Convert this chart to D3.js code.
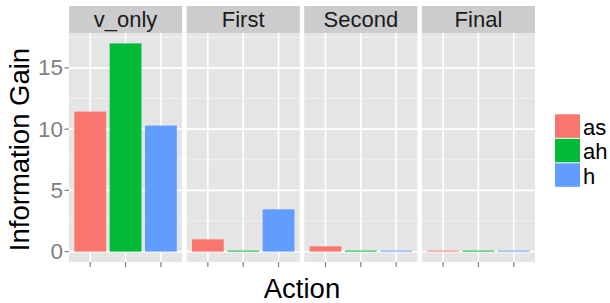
<!DOCTYPE html>
<html>
<head>
<meta charset="utf-8">
<style>
  html, body { margin: 0; padding: 0; background: #fff; }
  svg { display: block; font-family: "Liberation Sans", Arial, sans-serif; }
</style>
</head>
<body>
<div id="chart"></div>
<script src="https://d3js.org/d3.v7.min.js"></script>
<script>
    // facet panels, action categories and the values
    const panels = ["v_only", "First", "Second", "Final"];
    const actions = ["as", "ah", "h"];
    const colors = ["#F8766D", "#00BA38", "#619CFF"];
    const gainVOnly = [11.43, 17.0, 10.29];
    const gainFirst = [1.0, 0.08, 3.45];
    const gainSecond = [0.43, 0.08, 0.08];
    const gainFinal = [0.08, 0.08, 0.08];
    const yTicks = [0, 5, 10, 15];
    const yMinor = [2.5, 7.5, 12.5, 17.5];

    const values = [gainVOnly, gainFirst, gainSecond, gainFinal];

    const width = 610, height = 303;
    const left = 69, right = 535, gap = 4.5;
    const stripTop = 6, panelTop = 33, panelBottom = 262;
    const panelW = (right - left - gap * (panels.length - 1)) / panels.length;

    const svg = d3.select("#chart").append("svg")
        .attr("width", width)
        .attr("height", height);

    // ggplot style 5% expansion of the continuous axis
    const maxVal = d3.max(values.flat());
    const pad = maxVal * 0.05;
    const y = d3.scaleLinear()
        .domain([-pad, maxVal + pad])
        .range([panelBottom, panelTop]);

    const x = d3.scalePoint()
        .domain(actions)
        .range([0, panelW])
        .padding(0.6);
    const barW = x.step() * 0.9;

    panels.forEach((name, i) => {
        const g = svg.append("g")
            .attr("transform", `translate(${left + i * (panelW + gap)},0)`);

        // strip
        g.append("rect")
            .attr("x", 0).attr("y", stripTop)
            .attr("width", panelW).attr("height", panelTop - stripTop)
            .attr("fill", "#CCCCCC");
        g.append("text")
            .attr("x", panelW / 2).attr("y", 27.3)
            .attr("text-anchor", "middle")
            .attr("font-size", 22)
            .attr("fill", "#1A1A1A")
            .text(name);

        // panel background
        g.append("rect")
            .attr("x", 0).attr("y", panelTop)
            .attr("width", panelW).attr("height", panelBottom - panelTop)
            .attr("fill", "#E5E5E5");

        g.selectAll(".minor")
            .data(yMinor.filter(v => y(v) > panelTop))
            .join("line")
            .attr("x1", 0).attr("x2", panelW)
            .attr("y1", d => y(d)).attr("y2", d => y(d))
            .attr("stroke", "#F2F2F2")
            .attr("stroke-width", 0.9);

        g.selectAll(".major")
            .data(yTicks)
            .join("line")
            .attr("x1", 0).attr("x2", panelW)
            .attr("y1", d => y(d)).attr("y2", d => y(d))
            .attr("stroke", "#FFFFFF")
            .attr("stroke-width", 1.6);

        g.selectAll(".vmajor")
            .data(actions)
            .join("line")
            .attr("x1", d => x(d)).attr("x2", d => x(d))
            .attr("y1", panelTop).attr("y2", panelBottom)
            .attr("stroke", "#FFFFFF")
            .attr("stroke-width", 1.6);

        // bars
        g.selectAll(".bar")
            .data(actions.map((a, j) => ({ a, v: values[i][j], c: colors[j] })))
            .join("rect")
            .attr("x", d => x(d.a) - barW / 2)
            .attr("width", barW)
            .attr("y", d => y(d.v))
            .attr("height", d => y(0) - y(d.v))
            .attr("fill", d => d.c);

        // x ticks (no labels)
        g.selectAll(".xtick")
            .data(actions)
            .join("line")
            .attr("x1", d => x(d)).attr("x2", d => x(d))
            .attr("y1", panelBottom).attr("y2", panelBottom + 5)
            .attr("stroke", "#7F7F7F")
            .attr("stroke-width", 1.2);
    });

    // y axis ticks and labels
    const ya = svg.append("g");
    ya.selectAll("line")
        .data(yTicks)
        .join("line")
        .attr("x1", left - 4.5).attr("x2", left)
        .attr("y1", d => y(d)).attr("y2", d => y(d))
        .attr("stroke", "#7F7F7F")
        .attr("stroke-width", 1.2);
    ya.selectAll("text")
        .data(yTicks)
        .join("text")
        .attr("x", left - 6)
        .attr("y", d => y(d) + 7.5)
        .attr("text-anchor", "end")
        .attr("font-size", 22.5)
        .attr("fill", "#7F7F7F")
        .text(d => d);

    // axis titles
    svg.append("text")
        .attr("x", (left + right) / 2).attr("y", 298)
        .attr("text-anchor", "middle")
        .attr("font-size", 27.5)
        .attr("fill", "#000")
        .text("Action");
    svg.append("text")
        .attr("transform", `translate(28.5,${(panelTop + panelBottom) / 2 + 2}) rotate(-90)`)
        .attr("text-anchor", "middle")
        .attr("font-size", 27.5)
        .attr("fill", "#000")
        .text("Information Gain");

    // legend
    const keyH = 24.5, keyW = 25, legTop = 114.3, legX = 555;
    const leg = svg.append("g");
    leg.selectAll("rect")
        .data(actions)
        .join("rect")
        .attr("x", legX)
        .attr("y", (d, j) => legTop + j * keyH)
        .attr("width", keyW)
        .attr("height", keyH - 1)
        .attr("fill", (d, j) => colors[j]);
    leg.selectAll("text")
        .data(actions)
        .join("text")
        .attr("x", legX + keyW + 3)
        .attr("y", (d, j) => legTop + j * keyH + keyH / 2 + 8)
        .attr("font-size", 22)
        .attr("fill", "#000")
        .text(d => d);
</script>
</body>
</html>
